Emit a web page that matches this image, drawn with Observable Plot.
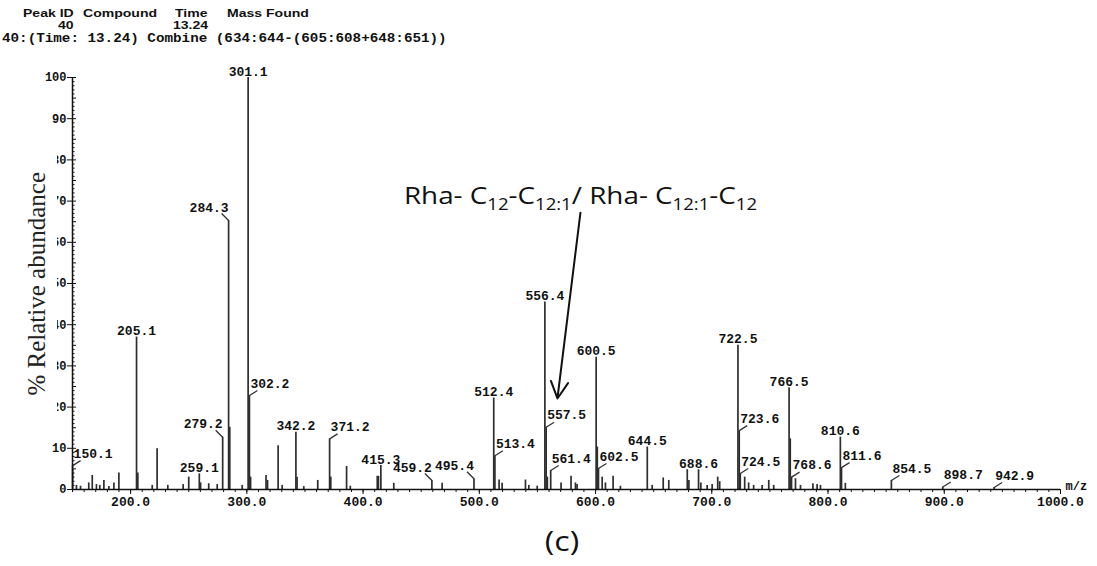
<!DOCTYPE html>
<html>
<head>
<meta charset="utf-8">
<script src="https://cdn.jsdelivr.net/npm/d3@7"></script>
<script src="https://cdn.jsdelivr.net/npm/@observablehq/plot@0.6"></script>
<style>
  body { margin: 0; background: #fff; }
  #wrap { position: relative; width: 1097px; height: 566px; overflow: hidden; background: #fff; }
  #wrap svg { position: absolute; left: 0; top: 0; }
  .hdr { position: absolute; font-family: "Liberation Sans", Arial, sans-serif; font-weight: bold; font-size: 11.5px; line-height: 1; color: #111; white-space: pre; transform-origin: 0 0; transform: scaleX(1.22); }
  .mono { position: absolute; font-family: "Liberation Mono", monospace; font-weight: bold; font-size: 12.5px; line-height: 1; color: #111; white-space: pre; transform-origin: 0 0; transform: scaleX(1.14); }
  #ylab { position: absolute; left: 16px; top: 138px; width: 41px; height: 292px; background: #fff; display: flex; align-items: center; justify-content: center; }
  #ylab span { writing-mode: vertical-rl; transform: rotate(180deg); font-family: "Liberation Serif", serif; font-size: 25px; color: #222; white-space: nowrap; }
  #cap { position: absolute; left: 522px; top: 526px; width: 80px; text-align: center; font-family: "Open Sans", sans-serif; font-size: 28px; line-height: 1; color: #111; transform: scaleX(1.15); }
</style>
</head>
<body>
<div id="wrap"></div>
<script>
// ---------------- data ----------------
const headerFields = ["Peak ID", "Compound", "Time", "Mass Found"];
const headerValues = ["40", "", "13.24", ""];
const scanLine = "40:(Time: 13.24) Combine (634:644-(605:608+648:651))";
const yAxisTitle = "% Relative abundance";
const xAxisUnit = "m/z";
const caption = "(c)";

// labelled peaks (m/z, % relative abundance, label side)
const labeledMz  = [150.1, 205.1, 259.1, 279.2, 284.3, 301.1, 302.2, 342.2, 371.2, 415.3, 459.2, 495.4, 512.4, 513.4, 556.4, 557.5, 561.4, 600.5, 602.5, 644.5, 688.6, 722.5, 723.6, 724.5, 766.5, 768.6, 810.6, 811.6, 854.5, 898.7, 942.9];
const labeledInt = [5.8, 37.0, 3.8, 12.7, 65.3, 100, 22.8, 13.9, 12.3, 5.8, 2.2, 2.6, 22.2, 8.2, 45.5, 15.1, 4.6, 32.1, 5.1, 10.3, 4.8, 35.0, 14.3, 3.9, 24.7, 3.0, 12.7, 5.3, 2.2, 0.6, 0.5];
const labelSide  = ["r","c","c","l","l","c","r","c","r","c","l","l","c","r","c","r","r","c","r","c","c","c","r","r","c","r","c","r","r","r","r"];

// unlabelled peaks
const minorMz  = [153.4,156.9,164.0,167.0,170.6,173.5,177.0,181.3,185.6,189.9,206.2,218.6,222.8,232.0,245.2,250.0,260.2,267.2,274.5,285.3,296.0,303.2,316.5,317.8,326.9,330.4,343.2,349.0,361.0,372.2,385.8,389.0,412.2,413.2,426.4,468.0,517.0,519.6,539.7,542.6,549.8,558.5,570.3,578.9,582.7,584.1,601.5,605.7,608.5,615.1,621.4,648.7,658.2,663.0,678.9,680.3,690.6,696.0,700.3,705.1,706.8,728.3,731.7,736.0,743.3,749.0,753.3,767.5,772.0,776.3,787.0,790.6,793.5,814.9];
const minorInt = [1.0,0.8,1.6,3.4,1.2,1.0,2.2,0.7,1.6,4.0,4.0,1.0,9.9,1.0,1.2,3.0,1.6,1.4,1.2,15.1,1.0,3.0,3.4,2.2,10.6,1.0,3.0,0.7,2.2,3.0,5.6,0.8,3.2,3.2,1.5,1.5,2.3,1.5,2.3,1.0,0.8,3.0,1.6,3.2,1.6,1.2,10.3,3.0,1.6,3.2,0.8,1.0,2.8,2.2,4.8,2.2,1.6,1.0,1.2,3.0,1.9,3.0,1.6,1.0,1.0,2.2,1.0,12.3,2.6,1.0,1.4,1.2,1.0,1.5];

const xTicks = [200, 300, 400, 500, 600, 700, 800, 900, 1000];
const yTicks = [0, 10, 20, 30, 40, 50, 60, 70, 80, 90, 100];

// annotation (text + arrow, in data units)
const annotationParts = [["Rha- C",0],["12",1],["-C",0],["12:1",1],["/ Rha- C",0],["12:1",1],["-C",0],["12",1]];
const annotation = annotationParts.map(p => p[0]).join("");
const arrowFrom = [587, 67.2];
const arrowTo   = [567.2, 22.1];

// ---------------- layout ----------------
const W = 1097, H = 566, ML = 72, MR = 37, MT = 77, MB = 77;
const xDom = [150, 1000], yDom = [0, 100];
const pxX = (xDom[1] - xDom[0]) / (W - ML - MR);   // data units per pixel
const pxY = (yDom[1] - yDom[0]) / (H - MT - MB);

const peaksAll = [
  ...labeledMz.map((m, i) => ({mz: m, int: labeledInt[i]})),
  ...minorMz.map((m, i) => ({mz: m, int: minorInt[i]}))
];
const lab = labeledMz.map((m, i) => ({mz: m, int: labeledInt[i], side: labelSide[i], label: m.toFixed(1)}));
const leaders = lab.filter(d => d.side !== "c").map(d => ({
  x1: d.mz, y1: d.int,
  x2: d.mz + (d.side === "r" ? 8 : -7) * pxX,
  y2: d.int + (d.side === "r" ? 5 : 7) * pxY
}));

const chart = Plot.plot({
  width: W, height: H,
  marginLeft: ML, marginRight: MR, marginTop: MT, marginBottom: MB,
  x: {domain: xDom},
  y: {domain: yDom},
  style: {fontFamily: "'Liberation Mono', monospace", fontWeight: "bold", fontSize: "13px", color: "#111", background: "#fff", overflow: "visible"},
  marks: [
    Plot.ruleX(peaksAll, {x: "mz", y1: 0, y2: "int", stroke: "#2e2e2e", strokeWidth: 1.7}),
    Plot.ruleX(d3.range(150, 1001, 10), {x: d => d, y1: 0, y2: -3 * pxY, stroke: "#111", strokeWidth: 1}),
    Plot.ruleY(d3.range(0, 101, 1), {y: d => d, x1: xDom[0], x2: d => xDom[0] + (d % 5 === 0 ? 4 : 2.5) * pxX, stroke: "#111", strokeWidth: 1}),
    Plot.ruleY([yDom[0]], {x1: xDom[0], x2: xDom[1], stroke: "#111", strokeWidth: 1.5}),
    Plot.ruleX([xDom[0]], {y1: yDom[0], y2: yDom[1], stroke: "#111", strokeWidth: 1.5}),
    Plot.axisX({ticks: xTicks, tickSize: 5, tickPadding: 2, tickFormat: d3.format(".1f"), label: null}),
    Plot.axisY({ticks: yTicks, tickSize: 5, tickPadding: 1, fontSize: 12, label: null}),
    Plot.link(leaders, {x1: "x1", y1: "y1", x2: "x2", y2: "y2", stroke: "#333", strokeWidth: 1.3}),
    Plot.text(lab.filter(d => d.side === "c"), {x: "mz", y: "int", text: "label", lineAnchor: "bottom", dy: -2}),
    Plot.text(lab.filter(d => d.side === "r"), {x: "mz", y: "int", text: "label", textAnchor: "start", dx: 1, dy: -12}),
    Plot.text(lab.filter(d => d.side === "l"), {x: "mz", y: "int", text: "label", textAnchor: "end", dx: 0, dy: -13}),
    Plot.arrow([{x1: arrowFrom[0], y1: arrowFrom[1], x2: arrowTo[0], y2: arrowTo[1]}], {x1: "x1", y1: "y1", x2: "x2", y2: "y2", stroke: "#111", strokeWidth: 2, headLength: 14, headAngle: 55, bend: 0}),
    Plot.text([{x: arrowFrom[0], y: arrowFrom[1], t: annotation}], {x: "x", y: "y", text: "t", dy: -9, lineAnchor: "bottom", fontFamily: "'Open Sans', sans-serif", fontWeight: "normal", fontSize: 24}),
    Plot.text([{x: xDom[1], y: yDom[0], t: xAxisUnit}], {x: "x", y: "y", text: "t", textAnchor: "start", lineAnchor: "bottom", dx: 5, dy: 0, fontSize: 12})
  ]
});

// subscripts in the annotation
chart.querySelectorAll("text").forEach(t => {
  if (t.textContent === annotation) {
    while (t.firstChild) t.removeChild(t.firstChild);
    let prev = 0;
    for (const [s, sub] of annotationParts) {
      const ts = document.createElementNS("http://www.w3.org/2000/svg", "tspan");
      ts.textContent = s;
      if (sub) ts.setAttribute("font-size", "16");
      if (sub !== prev) ts.setAttribute("dy", sub ? "6" : "-6");
      prev = sub;
      t.appendChild(ts);
    }
    t.setAttribute("transform", (t.getAttribute("transform") || "") + " scale(1.16 1)");
  }
});

const wrap = document.getElementById("wrap");
wrap.appendChild(chart);

// header
const hdrLeft = [23, 83, 175, 227];
headerFields.forEach((f, i) => {
  const d = document.createElement("div");
  d.className = "hdr"; d.style.left = hdrLeft[i] + "px"; d.style.top = "8px"; d.textContent = f;
  wrap.appendChild(d);
});
const valLeft = [58, 0, 173, 0];
headerValues.forEach((v, i) => {
  if (!v) return;
  const d = document.createElement("div");
  d.className = "hdr"; d.style.left = valLeft[i] + "px"; d.style.top = "19.5px"; d.textContent = v;
  wrap.appendChild(d);
});
const sl = document.createElement("div");
sl.className = "mono"; sl.style.left = "2px"; sl.style.top = "32.5px"; sl.textContent = scanLine;
wrap.appendChild(sl);

// y-axis title (on a white patch, as in the original figure)
const yl = document.createElement("div");
yl.id = "ylab";
const ys = document.createElement("span");
ys.textContent = yAxisTitle;
yl.appendChild(ys);
wrap.appendChild(yl);

// caption
const cp = document.createElement("div");
cp.id = "cap"; cp.textContent = caption;
wrap.appendChild(cp);
</script>
</body>
</html>
